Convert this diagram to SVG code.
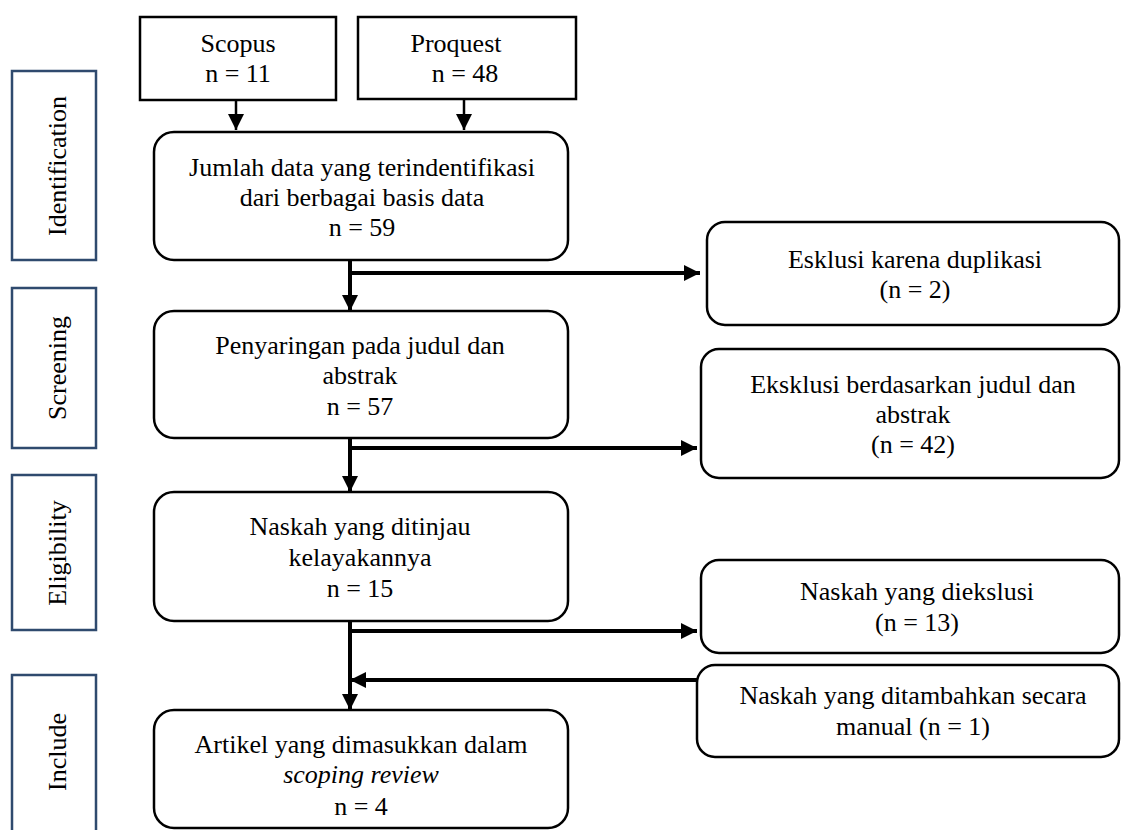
<svg xmlns="http://www.w3.org/2000/svg" width="1121" height="830" viewBox="0 0 1121 830">
<style>
text{font-family:'Liberation Serif','DejaVu Serif','Times New Roman',Times,serif}
.t{font-size:26px;fill:#000;text-anchor:middle}
.it{font-style:italic}
.lab{fill:#fff;stroke:#2f4a6e;stroke-width:2.5}
.sq{fill:#fff;stroke:#000;stroke-width:2.5}
.rb{fill:#fff;stroke:#000;stroke-width:2.5}
.c{stroke:#000;stroke-width:4;fill:none}
.cs{stroke:#000;stroke-width:2.5;fill:none}
</style>
<defs>
<marker id="ah" markerUnits="userSpaceOnUse" markerWidth="17" markerHeight="16" refX="16" refY="8" orient="auto">
<polygon points="0,0 16,8 0,16" fill="#000"/>
</marker>
</defs>
<rect width="1121" height="830" fill="#fff"/>

<g id="stage-identification">
<rect class="lab" x="12" y="71" width="84" height="189"/>
<text class="t" font-family="Liberation Serif, DejaVu Serif, serif" transform="translate(66,166) rotate(-90)">Identification</text>
</g>
<g id="stage-screening">
<rect class="lab" x="12" y="288" width="84" height="160"/>
<text class="t" font-family="Liberation Serif, DejaVu Serif, serif" transform="translate(66,368) rotate(-90)">Screening</text>
</g>
<g id="stage-eligibility">
<rect class="lab" x="12" y="475" width="84" height="155"/>
<text class="t" font-family="Liberation Serif, DejaVu Serif, serif" transform="translate(66,553) rotate(-90)">Eligibility</text>
</g>
<g id="stage-include">
<rect class="lab" x="12" y="675" width="84" height="165"/>
<text class="t" font-family="Liberation Serif, DejaVu Serif, serif" transform="translate(66,752) rotate(-90)">Include</text>
</g>

<g id="connectors">
<line class="cs" x1="236" y1="100" x2="236" y2="130" marker-end="url(#ah)"/>
<line class="cs" x1="464" y1="99" x2="464" y2="130" marker-end="url(#ah)"/>
<line class="c" x1="350" y1="260" x2="350" y2="311" marker-end="url(#ah)"/>
<line class="c" x1="348" y1="273" x2="700" y2="273" marker-end="url(#ah)"/>
<line class="c" x1="350" y1="438" x2="350" y2="492" marker-end="url(#ah)"/>
<line class="c" x1="348" y1="448" x2="697" y2="448" marker-end="url(#ah)"/>
<line class="c" x1="350" y1="621" x2="350" y2="710" marker-end="url(#ah)"/>
<line class="c" x1="348" y1="631" x2="697" y2="631" marker-end="url(#ah)"/>
<line class="c" x1="697" y1="680" x2="350" y2="680" marker-end="url(#ah)"/>
</g>

<g id="scopus">
<rect class="sq" x="140" y="17" width="196" height="83"/>
<text class="t" x="238" y="52">Scopus</text>
<text class="t" x="238" y="82">n = 11</text>
</g>
<g id="proquest">
<rect class="sq" x="358" y="17" width="218" height="82"/>
<text class="t" x="456" y="52">Proquest</text>
<text class="t" x="465" y="82">n = 48</text>
</g>
<g id="identified">
<rect class="rb" x="154" y="132" width="414" height="128" rx="20"/>
<text class="t" x="362" y="176">Jumlah data yang terindentifikasi</text>
<text class="t" x="362" y="206">dari berbagai basis data</text>
<text class="t" x="362" y="236">n = 59</text>
</g>
<g id="duplicates">
<rect class="rb" x="707" y="222" width="412" height="103" rx="18"/>
<text class="t" x="915" y="268">Esklusi karena duplikasi</text>
<text class="t" x="915" y="298">(n = 2)</text>
</g>
<g id="screening">
<rect class="rb" x="154" y="311" width="414" height="127" rx="20"/>
<text class="t" x="360" y="354">Penyaringan pada judul dan</text>
<text class="t" x="360" y="384">abstrak</text>
<text class="t" x="360" y="415">n = 57</text>
</g>
<g id="excluded-title">
<rect class="rb" x="701" y="349" width="418" height="129" rx="18"/>
<text class="t" x="913" y="393">Eksklusi berdasarkan judul dan</text>
<text class="t" x="913" y="423">abstrak</text>
<text class="t" x="913" y="453">(n = 42)</text>
</g>
<g id="eligibility">
<rect class="rb" x="154" y="492" width="414" height="129" rx="20"/>
<text class="t" x="360" y="535">Naskah yang ditinjau</text>
<text class="t" x="360" y="566">kelayakannya</text>
<text class="t" x="360" y="597">n = 15</text>
</g>
<g id="excluded-full">
<rect class="rb" x="701" y="560" width="418" height="93" rx="18"/>
<text class="t" x="917" y="600">Naskah yang diekslusi</text>
<text class="t" x="917" y="631">(n = 13)</text>
</g>
<g id="manual">
<rect class="rb" x="697" y="665" width="422" height="92" rx="18"/>
<text class="t" x="913" y="704">Naskah yang ditambahkan secara</text>
<text class="t" x="913" y="735">manual (n = 1)</text>
</g>
<g id="included">
<rect class="rb" x="154" y="710" width="414" height="118" rx="20"/>
<text class="t" x="361" y="753">Artikel yang dimasukkan dalam</text>
<text class="t it" x="361" y="783">scoping review</text>
<text class="t" x="361" y="815">n = 4</text>
</g>
</svg>
